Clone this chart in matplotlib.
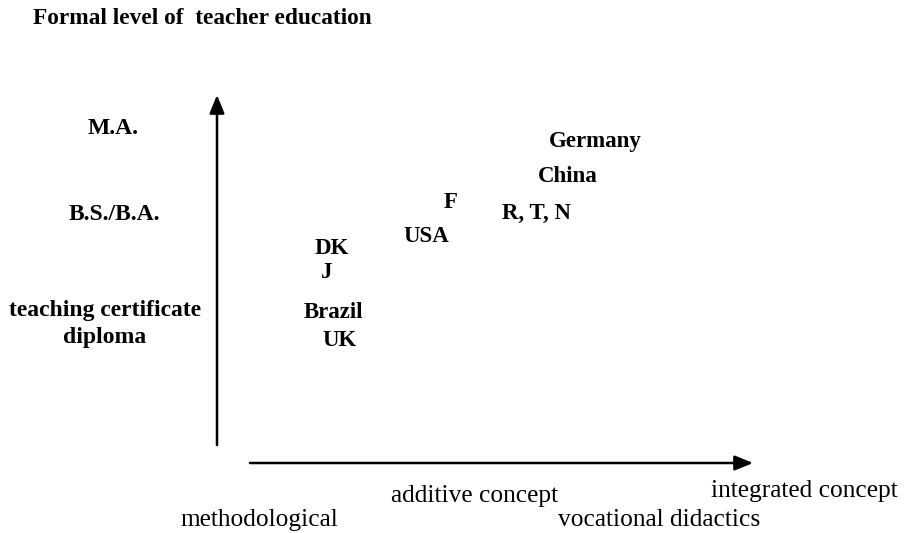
import matplotlib; matplotlib.use("Agg")
import matplotlib.pyplot as plt

# country placements on the two dimensions (canvas units, y grows downward)
countries = ["Germany", "China", "F", "R, T, N", "USA", "DK", "J", "Brazil", "UK"]
country_x = [595, 568, 451, 537, 426, 332, 327, 334, 340]
country_y = [142, 177, 203, 213, 237, 249, 272, 313, 340]

# formal education levels (vertical dimension)
levels = ["M.A.", "B.S./B.A.", "teaching certificate\ndiploma"]
level_x = [113, 114, 105]
level_y = [128, 215, 324]

# didactic concepts (horizontal dimension)
concepts = ["additive concept", "integrated concept", "methodological", "vocational didactics"]
concept_x = [475, 804, 259, 659]
concept_y = [496, 491, 520, 520]

plt.rcParams["font.family"] = ["Liberation Serif", "DejaVu Serif"]
fig = plt.figure(figsize=(9.07, 5.33), dpi=100)
ax = fig.add_axes([0, 0, 1, 1])
ax.set_xlim(0, 907); ax.set_ylim(533, 0); ax.axis("off")

ax.text(202, 18, "Formal level of  teacher education", ha="center", va="center",
        fontsize=16.8, fontweight="bold")

arrow = dict(arrowstyle="-|>,head_length=1.1,head_width=0.45", color="black", lw=1.8,
             shrinkA=0, shrinkB=0)
ax.annotate("", xy=(217, 95), xytext=(217, 445), arrowprops=arrow)
ax.annotate("", xy=(753, 463), xytext=(250, 463), arrowprops=arrow)

for s, x, y in zip(levels, level_x, level_y):
    ax.text(x, y, s, ha="center", va="center", fontsize=17, fontweight="bold", linespacing=1.35)
for s, x, y in zip(countries, country_x, country_y):
    ax.text(x, y, s, ha="center", va="center", fontsize=16.5, fontweight="bold")
for s, x, y in zip(concepts, concept_x, concept_y):
    ax.text(x, y, s, ha="center", va="center", fontsize=18.3)

fig.savefig("out.png", dpi=100)
